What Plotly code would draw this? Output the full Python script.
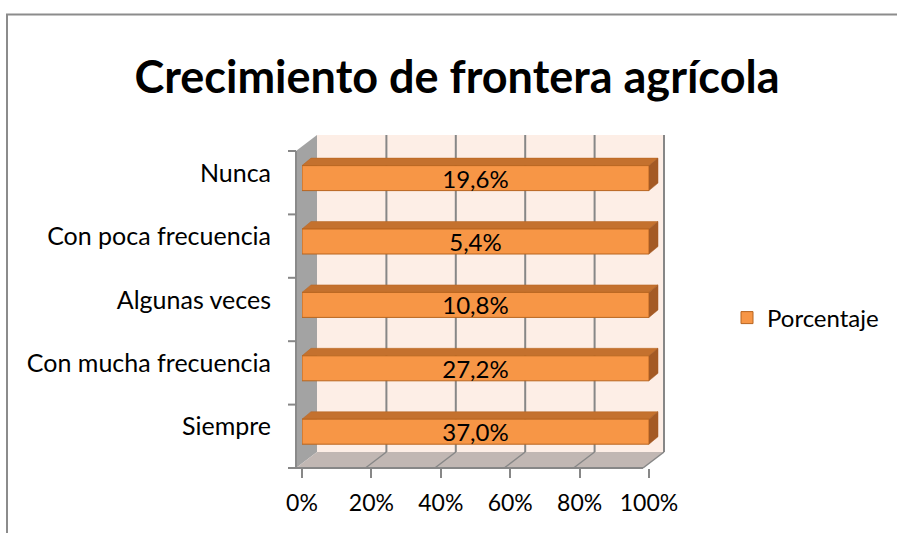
import plotly.graph_objects as go

# ---------------- data ----------------
categories = ["Siempre", "Con mucha frecuencia", "Algunas veces", "Con poca frecuencia", "Nunca"]
porcentaje = [37.0, 27.2, 10.8, 5.4, 19.6]
x_ticks = [0, 20, 40, 60, 80, 100]
x_tick_labels = ["0%", "20%", "40%", "60%", "80%", "100%"]
series_name = "Porcentaje"
title_text = "Crecimiento de frontera agrícola"

# ---------------- geometry (pixels) ----------------
W, H = 897, 533
FRONT_L, FRONT_R = 296, 643      # front floor edge 0% .. 100%
FRONT_TOP, FRONT_BOT = 151, 468  # front edge of left wall
DX, DY = 21, -16                 # depth of the 3-D box
BDX, BDY = 6, -4.6               # bar front offset
BDEPTH_X, BDEPTH_Y = 9, -7.5     # bar depth
BAR_H = 25
n = len(categories)
step = (FRONT_BOT - FRONT_TOP) / n

def X(px):
    return px / W

def Y(py):
    return 1 - py / H

bar_left = FRONT_L + BDX
bar_right = FRONT_R + BDX
ybot = FRONT_BOT + BDY
ytop = FRONT_TOP + BDY
pxu = (bar_right - bar_left) / 100.0

def ypx(i):
    return ybot - (i + 0.5) * step

ORANGE = "#F79646"
EDGE = "#B8651F"
TOP = "#C4712E"
SIDE = "#A45A25"
GRID = "#878787"
FONT = "Lato"

labels = [f"{v:.1f}%".replace(".", ",") for v in porcentaje]

fig = go.Figure()
fig.add_trace(go.Bar(
    y=categories, x=porcentaje, orientation="h", name=series_name,
    marker=dict(color=ORANGE, line=dict(color=EDGE, width=1)),
    width=BAR_H / step,
    text=labels, textposition="inside", insidetextanchor="middle",
    textangle=0, constraintext="none",
    insidetextfont=dict(family=FONT, size=24, color="black"),
    hoverinfo="skip",
))
fig.add_trace(go.Scatter(
    x=[x_ticks[0], x_ticks[-1]], y=[categories[0], categories[0]],
    xaxis="x2", yaxis="y", mode="markers", marker=dict(opacity=0),
    showlegend=False, hoverinfo="skip",
))

shapes = []
def poly(pts, fill, line_color=None, lw=0):
    path = "M " + " L ".join(f"{X(a):.5f},{Y(b):.5f}" for a, b in pts) + " Z"
    shapes.append(dict(type="path", xref="paper", yref="paper", path=path,
                       fillcolor=fill, line=dict(color=line_color or fill, width=lw),
                       layer="below"))

def seg(a, b, c, d, color=GRID, lw=2, layer="below"):
    shapes.append(dict(type="line", xref="paper", yref="paper",
                       x0=X(a), y0=Y(b), x1=X(c), y1=Y(d),
                       line=dict(color=color, width=lw), layer=layer))

# back wall
poly([(FRONT_L + DX, FRONT_TOP + DY), (FRONT_R + DX + 1, FRONT_TOP + DY),
      (FRONT_R + DX + 1, FRONT_BOT + DY), (FRONT_L + DX, FRONT_BOT + DY)], "#FDEEE6")
fpx = (FRONT_R - FRONT_L) / 100.0
for v in x_ticks[1:]:
    xx = FRONT_L + DX + v * fpx
    seg(xx, FRONT_TOP + DY, xx, FRONT_BOT + DY)
# left wall
poly([(FRONT_L, FRONT_TOP), (FRONT_L + DX, FRONT_TOP + DY),
      (FRONT_L + DX, FRONT_BOT + DY), (FRONT_L, FRONT_BOT)], "#A3A3A3")
seg(FRONT_L, FRONT_TOP, FRONT_L, FRONT_BOT, "#8A8A8A", 2)
# floor
poly([(FRONT_L, FRONT_BOT), (FRONT_L + DX, FRONT_BOT + DY),
      (FRONT_R + DX, FRONT_BOT + DY), (FRONT_R, FRONT_BOT)], "#C1B7B3")
for v in x_ticks[1:]:
    xx = FRONT_L + v * fpx
    seg(xx, FRONT_BOT, xx + DX, FRONT_BOT + DY, GRID, 1.5)
seg(FRONT_L, FRONT_BOT, FRONT_R, FRONT_BOT, GRID, 2)
# y tick marks on left wall edge
for k in range(n + 1):
    yy = FRONT_BOT - k * step
    seg(FRONT_L - 8, yy, FRONT_L, yy, GRID, 2)

# 3-D faces of bars
for i, v in enumerate(porcentaje):
    cy = ypx(i)
    t, b = cy - BAR_H / 2, cy + BAR_H / 2
    xr = bar_left + 100 * pxu  # 100% stacked bar
    poly([(bar_left, t), (bar_left + BDEPTH_X, t + BDEPTH_Y),
          (xr + BDEPTH_X, t + BDEPTH_Y), (xr, t)], TOP, EDGE, 0.5)
    poly([(xr, t), (xr + BDEPTH_X, t + BDEPTH_Y),
          (xr + BDEPTH_X, b + BDEPTH_Y), (xr, b)], SIDE, SIDE, 0.5)

# outer frame
seg(7, 14.5, 7, 540, "#8C8C8C", 2, "above")
seg(6, 14.5, 905, 14.5, "#8C8C8C", 2, "above")

fig.update_layout(
    width=W, height=H, autosize=False,
    margin=dict(l=0, r=0, t=0, b=0, pad=0, autoexpand=False),
    paper_bgcolor="white", plot_bgcolor="rgba(0,0,0,0)",
    barnorm="percent",
    font=dict(family=FONT, size=25, color="black"),
    title=dict(text=f"<b>{title_text}</b>", x=X(457), xanchor="center",
               y=Y(77), yanchor="middle",
               font=dict(family=FONT, size=45, color="black")),
    xaxis=dict(domain=[X(bar_left), X(bar_right)], range=[0, 100], automargin=False,
               showgrid=False, zeroline=False, showticklabels=False, showline=False),
    xaxis2=dict(overlaying="x", anchor="free", position=Y(FRONT_BOT),
                domain=[X(FRONT_L), X(FRONT_R)], range=[0, 100], automargin=False,
                tickvals=x_ticks, ticktext=x_tick_labels,
                ticks="outside", ticklen=9, tickwidth=2, tickcolor=GRID,
                ticklabelstandoff=5,
                showgrid=False, zeroline=False, showline=False,
                tickfont=dict(family=FONT, size=23, color="black")),
    yaxis=dict(domain=[Y(ybot), Y(ytop)], range=[-0.5, n - 0.5], automargin=False,
               categoryorder="array", categoryarray=categories,
               showgrid=False, zeroline=False, showline=False, ticks="",
               ticklabelshift=-5, ticklabelstandoff=30,
               tickfont=dict(family=FONT, size=25, color="black")),
    legend=dict(x=X(727), xanchor="left", y=Y(318), yanchor="middle",
                font=dict(family=FONT, size=24, color="black"),
                bgcolor="rgba(0,0,0,0)"),
    showlegend=True,
    shapes=shapes,
)

fig.write_html("out.html", config={"displayModeBar": False},
               post_script="document.body.style.margin='0';document.body.style.overflow='hidden';")
